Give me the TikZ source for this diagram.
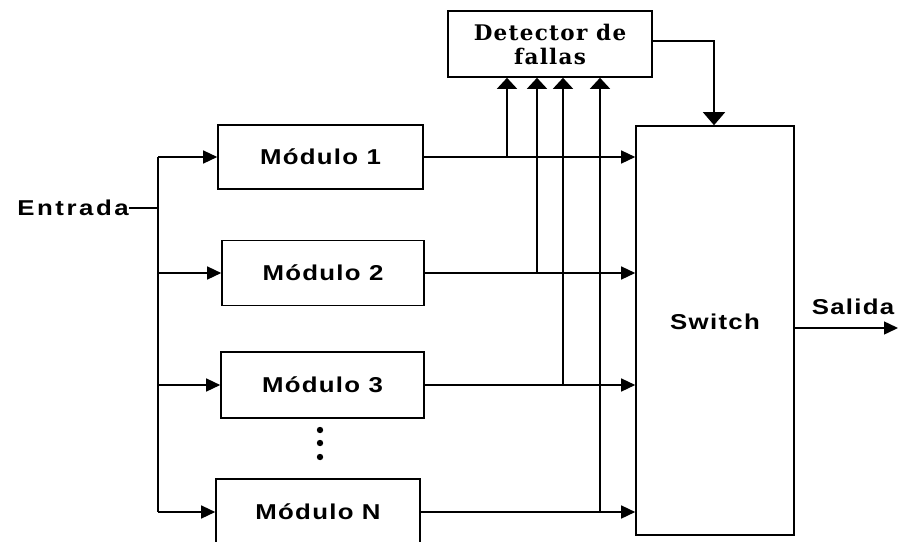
\documentclass[tikz,border=0pt]{standalone}
\usepackage{fontspec}
\usetikzlibrary{arrows.meta}
\newfontfamily\modfont{Liberation Sans Bold}[FakeStretch=1.2,LetterSpace=6]
\newfontfamily\entfont{Liberation Sans Bold}[FakeStretch=1.2,LetterSpace=12]
\newfontfamily\detfont{DejaVu Serif Bold}[LetterSpace=6]
\begin{document}
\begin{tikzpicture}[x=1pt,y=-1pt,
  box/.style={draw,line width=1.6pt,inner sep=0pt,font=\modfont\fontsize{21.5}{24}\selectfont},
  wire/.style={line width=1.4pt},
  arr/.style={wire,-{Triangle[length=14pt,width=13pt]}},
  uparr/.style={wire,-{Triangle[length=11pt,width=20pt]}},
  lbl/.style={inner sep=0pt,font=\modfont\fontsize{21.5}{24}\selectfont}]
\useasboundingbox (0,0) rectangle (904,541);
\fill[white] (0,0) rectangle (904,541);
% boxes
\node[box,minimum width=204pt,minimum height=66pt,align=center,
  font=\detfont\fontsize{21.5}{24}\selectfont] (det) at (550,44) {Detector de\\fallas};
\node[box,minimum width=205pt,minimum height=64pt] (m1) at (320.5,157) {Módulo 1};
\node[box,minimum width=202pt,minimum height=65pt] (m2) at (323,273) {Módulo 2};
\node[box,minimum width=203pt,minimum height=66pt] (m3) at (322.5,385) {Módulo 3};
\node[box,minimum width=204pt,minimum height=66pt] (mN) at (318,512) {Módulo N};
\node[box,minimum width=158pt,minimum height=409pt] (sw) at (715,330.5) {};
\node[lbl] (swt) at (715,322) {Switch};
\node[lbl,anchor=east,font=\entfont\fontsize{21.5}{24}\selectfont] (ent) at (129,208) {Entrada};
\node[lbl] (sal) at (853,307) {Salida};
% bus
\coordinate (b0) at (158,208);
\coordinate (b1) at (158,157);
\coordinate (bN) at (158,512);
\draw[wire] (ent.east) -- (b0);
\draw[wire] (b1) -- (bN);
\draw[arr] (b1) -- (m1.west);
\draw[arr] (b1 |- m2.west) -- (m2.west);
\draw[arr] (b1 |- m3.west) -- (m3.west);
\draw[arr] (bN) -- (mN.west);
% outputs to switch
\draw[arr] (m1.east) -- (m1.east -| sw.west);
\draw[arr] (m2.east) -- (m2.east -| sw.west);
\draw[arr] (m3.east) -- (m3.east -| sw.west);
\draw[arr] (mN.east) -- (mN.east -| sw.west);
% taps to detector
\coordinate (t1) at (507,157);
\coordinate (t2) at (537,273);
\coordinate (t3) at (563,385);
\coordinate (t4) at (600,512);
\draw[uparr] (t1) -- (t1 |- det.south);
\draw[uparr] (t2) -- (t2 |- det.south);
\draw[uparr] (t3) -- (t3 |- det.south);
\draw[uparr] (t4) -- (t4 |- det.south);
% detector to switch
\coordinate (dc) at (714,41);
\draw[wire,-{Triangle[length=13pt,width=22pt]}] (det.east |- dc) -- (dc) -- (dc |- sw.north);
% output
\coordinate (so) at (898,328);
\draw[arr] (sw.east |- so) -- (so);
% dots
\foreach \yy/\nm in {430/d1,443/d2,457/d3}
  \fill (320,\yy) circle (3.2pt) coordinate (\nm);
\end{tikzpicture}
\end{document}
